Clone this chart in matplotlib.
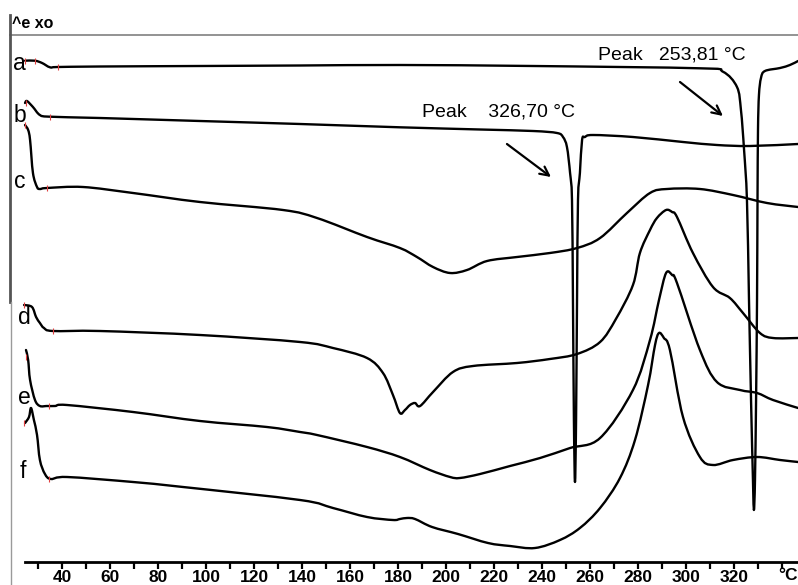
import matplotlib
matplotlib.use("Agg")
import matplotlib.pyplot as plt
from matplotlib.path import Path
from matplotlib.patches import PathPatch

# ---- data: temperature (°C) vs heat-flow signal (arbitrary units, exo up) ----
a_T = [24.6, 28.75, 31.7, 35.0, 38.3, 55.8, 97.5, 139.2, 180.8, 236.25, 305.8, 315.4,
       321.25, 322.9, 324.2, 325.4, 326.25, 327.1, 327.9, 328.3, 328.75, 329.2, 329.6,
       329.8, 330.0, 330.4, 331.25, 332.9, 339.2, 343.3, 346.7]
a_y = [524.3, 524.3, 522.0, 517.7, 518.0, 518.5, 519.0, 519.5, 520.0, 519.0, 516.7, 513.3,
       498.0, 475.0, 435.0, 385.0, 285.0, 185.0, 105.0, 75.0, 105.0, 185.0, 285.0,
       385.0, 455.0, 490.0, 507.0, 514.0, 517.0, 520.0, 524.0]

b_T = [24.6, 25.4, 27.9, 30.8, 35.0, 55.8, 97.5, 139.2, 180.8, 214.2, 236.25, 246.25, 248.75,
       250.4, 251.7, 252.5, 252.9, 253.3, 253.75, 254.2, 254.6, 255.0, 255.8, 256.7,
       257.9, 261.25, 277.9, 298.75, 312.9, 326.7, 346.7]
b_y = [482.0, 484.0, 478.0, 470.0, 468.3, 467.0, 464.0, 461.0, 457.7, 455.5, 454.0, 452.0, 448.0,
       438.0, 412.0, 385.0, 285.0, 165.0, 103.0, 165.0, 285.0, 385.0, 412.0, 445.0,
       448.0, 450.0, 448.0, 443.0, 440.0, 439.0, 441.0]

c_T = [24.6, 25.9, 26.7, 27.9, 29.6, 30.8, 33.75, 48.75, 69.6, 97.5, 132.1, 146.25, 167.1,
       180.8, 187.9, 194.6, 201.7, 208.75, 217.1, 229.6, 243.3, 254.6, 264.2, 275.4, 285.0,
       292.1, 305.8, 319.6, 333.75, 346.7]
c_y = [460.0, 455.0, 445.0, 412.0, 398.0, 396.0, 397.0, 398.0, 392.0, 383.0, 375.0, 367.0, 348.0,
       337.0, 328.0, 318.0, 312.0, 315.0, 324.0, 328.0, 332.0, 337.0, 347.0, 372.0, 392.0,
       396.0, 396.0, 390.0, 382.0, 378.0]

d_T = [24.2, 27.5, 29.2, 30.8, 32.5, 36.25, 55.8, 97.5, 139.2, 152.9, 167.1, 173.75, 177.9,
       180.8, 182.9, 185.0, 187.1, 189.2, 194.6, 202.9, 211.25, 229.6, 243.3, 254.6, 264.2,
       270.8, 277.9, 280.8, 285.0, 287.9, 291.7, 294.2, 296.25, 302.9, 311.25, 318.3, 323.75,
       330.8, 336.25, 346.7]
d_y = [280.0, 278.0, 268.0, 262.0, 257.0, 254.0, 254.0, 250.0, 243.0, 237.0, 227.0, 212.0, 190.0,
       172.0, 175.0, 180.0, 182.0, 179.0, 193.0, 213.0, 219.0, 222.0, 226.0, 231.0, 243.0,
       266.0, 300.0, 332.0, 355.0, 367.0, 375.0, 373.0, 368.0, 332.0, 298.0, 287.0, 272.0,
       252.0, 247.0, 247.0]

e_T = [25.0, 25.9, 26.7, 28.75, 30.8, 33.75, 37.1, 42.1, 69.6, 97.5, 125.4, 139.2,
       146.25, 167.1, 180.8, 193.3, 201.7, 205.8, 214.2, 226.7, 239.2, 251.7, 264.2, 277.9,
       285.0, 288.75, 291.7, 294.2, 296.25, 305.8, 312.9, 322.5, 329.6, 336.25, 346.7]
e_y = [235.0, 225.0, 205.0, 185.0, 179.0, 179.0, 179.0, 180.0, 173.0, 164.0, 158.0, 153.0,
       150.0, 138.0, 128.0, 115.0, 108.0, 107.0, 111.0, 119.0, 127.0, 137.0, 147.0, 195.0,
       245.0, 285.0, 312.0, 310.0, 302.0, 235.0, 203.0, 195.0, 192.0, 185.0, 177.0]

f_T = [24.6, 26.25, 27.1, 28.3, 29.6, 30.8, 32.9, 35.4, 42.1, 69.6, 90.4, 139.2, 152.9,
       167.1, 177.9, 180.8, 183.75, 187.1, 194.2, 205.0, 217.5, 226.7, 237.1, 247.5, 255.8,
       264.2, 272.5, 278.75, 284.2, 287.1, 288.75, 290.8, 293.3, 298.75, 305.8, 311.25, 319.6,
       329.6, 339.2, 346.7]
f_y = [162.0, 168.0, 177.0, 165.0, 150.0, 125.0, 111.0, 106.0, 108.0, 103.0, 98.0, 85.0, 77.0,
       68.0, 65.0, 66.0, 67.0, 66.0, 58.0, 51.0, 42.0, 39.0, 37.0, 45.0, 57.0,
       77.0, 107.0, 145.0, 200.0, 240.0, 252.0, 247.0, 235.0, 168.0, 128.0, 120.0, 125.0,
       128.0, 125.0, 123.0]

curves = [(a_T, a_y), (b_T, b_y), (c_T, c_y), (d_T, d_y), (e_T, e_y), (f_T, f_y)]
curve_names = ["a", "b", "c", "d", "e", "f"]
label_pos_T = [22.1, 22.5, 22.5, 24.4, 24.2, 23.75]
label_pos_y = [522.0, 470.0, 404.0, 267.0, 188.0, 113.0]

marker_T = [24.6, 28.75, 38.3, 25.0, 35.0, 24.6, 33.75, 24.2, 36.25, 25.0, 34.6, 24.2, 34.6]
marker_y = [524.3, 524.3, 518.0, 482.0, 468.3, 460.0, 397.0, 280.0, 254.0, 228.0, 179.0, 162.0, 106.0]

major_ticks = list(range(40, 321, 20))
minor_ticks = list(range(30, 341, 10))

peak_texts = ["Peak    326,70 °C", "Peak   253,81 °C"]
peak_text_T = [190.0, 263.3]
peak_text_y = [473.0, 530.0]
arrow_from_T = [225.4, 297.5]
arrow_from_y = [441.0, 503.0]
arrow_to_T = [243.75, 315.4]
arrow_to_y = [408.0, 469.0]

# ---- figure ----
fig = plt.figure(figsize=(7.98, 5.85), dpi=100)
ax = fig.add_axes([0, 0, 1, 1])
ax.set_xlim(14.17, 346.67)
ax.set_ylim(0, 585)

sans = ["Liberation Sans", "DejaVu Sans"]


def smooth_path(xs, ys):
    # Catmull-Rom style cubic Bezier passing through every data point
    n = len(xs)
    pts = list(zip(xs, ys))
    verts = [pts[0]]
    codes = [Path.MOVETO]
    for i in range(n - 1):
        p0 = pts[i - 1] if i > 0 else pts[i]
        p1 = pts[i]
        p2 = pts[i + 1]
        p3 = pts[i + 2] if i + 2 < n else pts[i + 1]
        c1 = (p1[0] + (p2[0] - p0[0]) / 6.0, p1[1] + (p2[1] - p0[1]) / 6.0)
        c2 = (p2[0] - (p3[0] - p1[0]) / 6.0, p2[1] - (p3[1] - p1[1]) / 6.0)
        verts += [c1, c2, p2]
        codes += [Path.CURVE4, Path.CURVE4, Path.CURVE4]
    return Path(verts, codes)


for (T, y) in curves:
    ax.add_patch(PathPatch(smooth_path(T, y), fill=False, edgecolor="black", lw=1.7,
                           joinstyle="round", capstyle="round", zorder=3))

ax.plot(marker_T, marker_y, ls="none", marker="|", ms=4, mew=0.8, color="#e04040", zorder=4)

for name, tx, ty in zip(curve_names, label_pos_T, label_pos_y):
    ax.text(tx, ty, name, fontsize=16.5, family=sans, ha="center", va="center", zorder=5)

for s, tx, ty in zip(peak_texts, peak_text_T, peak_text_y):
    ax.text(tx, ty, s, fontsize=14, family=sans, ha="left", va="center", zorder=5)

for fx, fy, tx, ty in zip(arrow_from_T, arrow_from_y, arrow_to_T, arrow_to_y):
    ax.annotate("", xy=(tx, ty), xytext=(fx, fy),
                arrowprops=dict(arrowstyle="->", lw=1.6, color="black",
                                mutation_scale=16, shrinkA=0, shrinkB=0))

# frame lines of the original instrument plot
ax.axhline(550, xmin=10 / 798, xmax=1.0, color="#8a8a8a", lw=1.3)
ax.axvline(18.33, ymin=(585 - 302) / 585, ymax=(585 - 15) / 585, color="#555555", lw=2.0)
ax.axvline(18.6, ymin=0, ymax=(585 - 302) / 585, color="#9a9a9a", lw=1.0)
ax.text(19.0, 561, "^e xo", fontsize=11.5, family=sans, weight="bold",
        ha="left", va="center")

# x axis
for side in ["left", "right", "top"]:
    ax.spines[side].set_visible(False)
ax.spines["bottom"].set_position(("data", 23))
ax.spines["bottom"].set_bounds(24.6, 346.67)
ax.spines["bottom"].set_linewidth(2.0)
ax.set_yticks([])
ax.set_xticks(major_ticks)
ax.set_xticks(minor_ticks, minor=True)
ax.set_xticklabels([str(t) for t in major_ticks], fontsize=12.5, family=sans, weight="bold")
ax.tick_params(axis="x", which="both", direction="out", length=5, width=1.6, pad=0.5)
ax.text(346.4, 9.0, "°C", fontsize=12.5, family=sans, weight="bold", ha="right", va="center")

fig.savefig("out.png", dpi=100)
